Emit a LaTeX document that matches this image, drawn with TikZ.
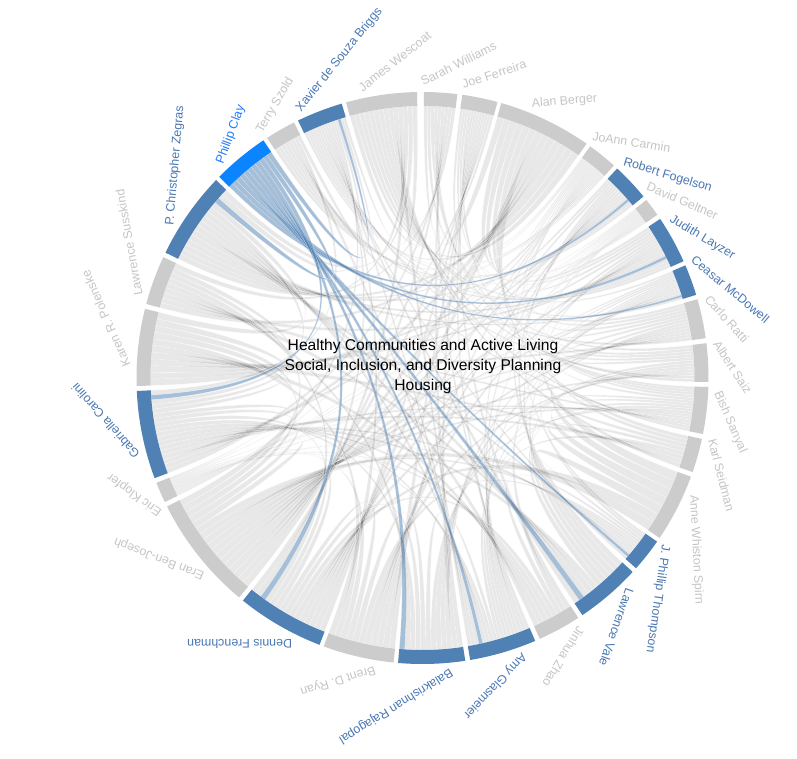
\documentclass[tikz,border=0pt]{standalone}
\usepackage{fontspec}
\setmainfont{Liberation Sans}
\definecolor{arcgray}{HTML}{CCCCCC}
\definecolor{arcblue}{HTML}{4F81B4}
\definecolor{arcbright}{HTML}{0A84FF}
\definecolor{labgray}{HTML}{C6C6C6}
\definecolor{labblue}{HTML}{4A78B4}
\definecolor{labbright}{HTML}{1F7BFF}
\def\GS{{0.3,8.0,16.0,35.9,42.9,51.5,56.2,66.8,74.0,83.0,91.8,102.3,110.2,124.9,132.7,147.0,156.8,171.4,185.8,201.1,219.9,244.3,249.5,268.4,285.0,296.0,314.7,327.1,334.2,344.5}}
\def\GE{{7.0,15.2,35.0,42.0,50.6,55.2,65.9,73.1,82.0,90.8,101.3,109.2,124.0,131.7,146.0,155.8,170.4,184.9,200.2,218.9,243.3,248.5,267.4,284.0,295.0,313.8,326.2,333.3,343.6,358.9}}
\newif\ifconn
\newcount\kk
\foreach \b in {5,7,8,14,15,17,18,20,23,26,29} {\expandafter\xdef\csname isblue\b\endcsname{1}}
\def\testconn#1#2{%
  \global\connfalse
  \ifnum#1=#2\relax
  \else\ifnum#1=27\relax
    \ifcsname isblue#2\endcsname\global\conntrue\fi
  \else\ifnum#2=27\relax
    \ifcsname isblue#1\endcsname\global\conntrue\fi
  \else
    \pgfmathtruncatemacro\hh{mod(min(#1,#2)*min(#1,#2)*3+max(#1,#2)*max(#1,#2)*5+#1*#2*7+min(#1,#2)+3*max(#1,#2),23)}%
    \ifnum\hh<11\relax\global\conntrue\fi
  \fi\fi\fi}
\foreach \i in {1,...,30}{%
  \global\kk=0
  \foreach \j in {1,...,30}{%
    \testconn{\i}{\j}%
    \ifconn
      \expandafter\xdef\csname k-\i-\j\endcsname{\the\kk}%
      \global\advance\kk by 1
    \fi}%
  \expandafter\xdef\csname n-\i\endcsname{\the\kk}%
}
\def\rr{272pt}
\def\rc{90.67pt}
\def\drawchord#1#2#3{%
  \edef\na{\csname n-#1\endcsname}\edef\ka{\csname k-#1-#2\endcsname}%
  \edef\nb{\csname n-#2\endcsname}\edef\kb{\csname k-#2-#1\endcsname}%
  \pgfmathsetmacro\Sa{\GS[#1-1]}\pgfmathsetmacro\Ea{\GE[#1-1]}%
  \pgfmathsetmacro\wa{(\Ea-\Sa)/\na}%
  \pgfmathsetmacro\sA{90-(\Sa+\wa*\ka)}\pgfmathsetmacro\sB{\sA-\wa}%
  \pgfmathsetmacro\Sb{\GS[#2-1]}\pgfmathsetmacro\Eb{\GE[#2-1]}%
  \pgfmathsetmacro\wb{(\Eb-\Sb)/\nb}%
  \pgfmathsetmacro\tA{90-(\Sb+\wb*\kb)}\pgfmathsetmacro\tB{\tA-\wb}%
  \path[#3] (\sA:\rr) arc[start angle=\sA, end angle=\sB, radius=\rr]
     .. controls (\sB:\rc) and (\tA:\rc) .. (\tA:\rr)
     arc[start angle=\tA, end angle=\tB, radius=\rr]
     .. controls (\tB:\rc) and (\sA:\rc) .. (\sA:\rr) -- cycle;
}
\tikzset{
  graychord/.style={fill=black, fill opacity=0.09, draw=white, draw opacity=0.6, line width=0.4pt},
  bluechord/.style={fill=arcblue, fill opacity=0.5, draw=white, draw opacity=0.5, line width=0.3pt},
  grp0/.style={fill=arcgray}, grp1/.style={fill=arcblue}, grp2/.style={fill=arcbright},
  lab0/.style={text=labgray}, lab1/.style={text=labblue}, lab2/.style={text=labbright},
  namelabel/.style={anchor=base west, inner sep=0pt, font=\fontsize{12.4}{14}\selectfont},
  titletext/.style={align=center, font=\fontsize{15.6}{20}\selectfont, text=black}
}
\begin{document}
\begin{tikzpicture}[x=1pt,y=1pt]
\useasboundingbox (-422.5,-380) rectangle (374.5,378);
\fill[white] (-422.5,-380) rectangle (374.5,378);
% gray chords
\foreach \a in {1,...,29}{%
  \pgfmathtruncatemacro\bstart{\a+1}%
  \foreach \b in {\bstart,...,30}{%
    \ifnum\a=27\relax\else\ifnum\b=27\relax\else
      \testconn{\a}{\b}%
      \ifconn\drawchord{\a}{\b}{graychord}\fi
    \fi\fi}}
% highlighted chords of Phillip Clay
\foreach \b in {5,7,8,14,15,17,18,20,23,26,29}{%
  \drawchord{27}{\b}{bluechord}}
% group arcs and labels
\foreach \i/\nm/\ty in {1/Sarah Williams/0,2/Joe Ferreira/0,3/Alan Berger/0,4/JoAnn Carmin/0,5/Robert Fogelson/1,6/David Geltner/0,7/Judith Layzer/1,8/Ceasar McDowell/1,9/Carlo Ratti/0,10/Albert Saiz/0,11/Bish Sanyal/0,12/Karl Seidman/0,13/Anne Whiston Spirn/0,14/J. Phillip Thompson/1,15/Lawrence Vale/1,16/Jinhua Zhao/0,17/Amy Glasmeier/1,18/Balakrishnan Rajagopal/1,19/Brent D. Ryan/0,20/Dennis Frenchman/1,21/Eran Ben-Joseph/0,22/Eric Klopfer/0,23/Gabriella Carolini/1,24/Karen R. Polenske/0,25/Lawrence Susskind/0,26/P. Christopher Zegras/1,27/Phillip Clay/2,28/Terry Szold/0,29/Xavier de Souza Briggs/1,30/James Wescoat/0}{%
  \pgfmathsetmacro\gsr{\GS[\i-1]}%
  \pgfmathsetmacro\ger{\GE[\i-1]}%
  \pgfmathsetmacro\gs{90-\gsr}%
  \pgfmathsetmacro\ge{90-\ger}%
  \pgfmathsetmacro\gm{(\gsr+\ger)/2}%
  \pgfmathsetmacro\la{90-\gm+3.5}%
  \pgfmathsetmacro\lr{30-\gm}%
  \fill[grp\ty] (\gs:286pt) arc[start angle=\gs, end angle=\ge, radius=286pt]
     -- (\ge:272pt) arc[start angle=\ge, end angle=\gs, radius=272pt] -- cycle;
  \node[namelabel, lab\ty, rotate=\lr] (lab\i) at (\la:292pt) {\nm};
}
\node[titletext] (title) at (0.5,12) {Healthy Communities and Active Living\\Social, Inclusion, and Diversity Planning\\Housing};
\end{tikzpicture}
\end{document}
